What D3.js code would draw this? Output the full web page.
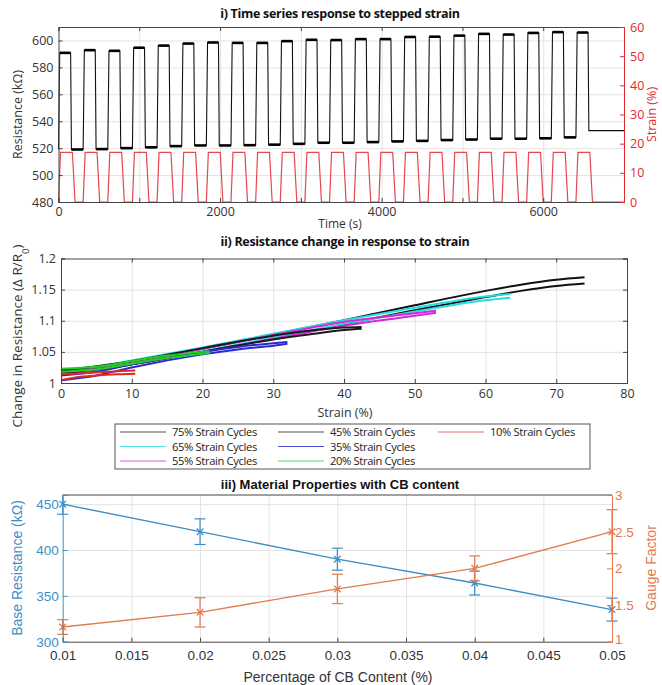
<!DOCTYPE html>
<html>
<head>
<meta charset="utf-8">
<script src="https://cdn.jsdelivr.net/npm/d3@7"></script>
<style>
  body { margin: 0; background: #fff; }
  svg { display: block; }
  .grid line { stroke: #e3e3e3; stroke-width: 1; }
  .grid path { display: none; }
</style>
</head>
<body>
<svg id="fig" width="662" height="685"></svg>
<script>
// ---------------- Panel i: stepped-strain time series ----------------
const cycleStart = [0, 305, 610, 915, 1220, 1525, 1830, 2135, 2440, 2745, 3050,
                    3355, 3660, 3965, 4270, 4575, 4880, 5185, 5490, 5795, 6100, 6405];
const resHigh = [590.8, 592.8, 592.3, 594.6, 596.2, 597.7, 598.5, 598.2, 598.2, 599.5, 600.5,
                 600.3, 601.0, 601.0, 602.6, 602.8, 603.6, 604.9, 604.4, 605.6, 606.2, 605.9];
const resLow  = [519.0, 519.3, 520.0, 520.6, 521.5, 522.0, 522.0, 522.2, 522.6, 523.2, 524.0,
                 524.0, 524.5, 525.0, 525.4, 526.0, 526.4, 527.0, 527.0, 527.3, 528.0, 528.4];
const resStart = 519;
const resEnd = 533;
const strainPeak = 17;
const timeEnd = 7000;
// offsets within one cycle (s)
const resRiseEnd = 15, resHighEnd = 150, resFallEnd = 160;
const strRiseEnd = 25, strHighEnd = 172, strFallEnd = 205;

const resTicks = [480, 500, 520, 540, 560, 580, 600];
const strainTicks = [0, 10, 20, 30, 40, 50, 60];
const timeTicks = [0, 1000, 2000, 3000, 4000, 5000, 6000, 7000];
const timeLabels = [0, 2000, 4000, 6000];

// ---------------- Panel ii: resistance change vs strain ----------------
const strain75 = [0, 5, 10, 20, 30, 40, 50, 60, 65, 70, 74];
const up75 = [1.020, 1.026, 1.035, 1.055, 1.078, 1.101, 1.125, 1.148, 1.158, 1.166, 1.170];
const dn75 = [1.015, 1.020, 1.030, 1.050, 1.072, 1.094, 1.117, 1.138, 1.148, 1.156, 1.160];
const strain65 = [0, 5, 10, 20, 30, 40, 50, 60, 63.5];
const up65 = [1.020, 1.026, 1.036, 1.057, 1.079, 1.101, 1.121, 1.139, 1.143];
const dn65 = [1.016, 1.021, 1.031, 1.051, 1.073, 1.095, 1.115, 1.133, 1.137];
const strain55 = [0, 10, 20, 30, 40, 50, 53];
const up55 = [1.018, 1.034, 1.055, 1.077, 1.098, 1.112, 1.116];
const dn55 = [1.014, 1.030, 1.050, 1.071, 1.092, 1.108, 1.113];
const strain45 = [0, 10, 20, 30, 35, 40, 42.5];
const up45 = [1.020, 1.035, 1.056, 1.076, 1.084, 1.089, 1.090];
const dn45 = [1.015, 1.030, 1.050, 1.070, 1.078, 1.085, 1.087];
const strain35 = [0, 5, 10, 20, 25, 30, 32];
const up35 = [1.012, 1.018, 1.030, 1.050, 1.058, 1.064, 1.066];
const dn35 = [1.004, 1.012, 1.025, 1.046, 1.054, 1.060, 1.063];
const strain20 = [0, 5, 10, 15, 20, 21];
const up20 = [1.023, 1.026, 1.035, 1.044, 1.050, 1.051];
const dn20 = [1.018, 1.022, 1.031, 1.040, 1.047, 1.048];
const strain10 = [0, 2, 5, 8, 10.5];
const up10 = [1.014, 1.015, 1.017, 1.019, 1.020];
const dn10 = [1.005, 1.009, 1.012, 1.014, 1.015];

const cycleNames = ["75% Strain Cycles", "65% Strain Cycles", "55% Strain Cycles",
                    "45% Strain Cycles", "35% Strain Cycles", "20% Strain Cycles", "10% Strain Cycles"];
const cycleColors = ["#111111", "#22dede", "#d42ad8", "#1a1a1a", "#2a2ad0", "#22d022", "#e02a2a"];
const legendColors = ["#555555", "#5fe0e0", "#d45fd8", "#555555", "#4a4ad0", "#5fd85f", "#e07070"];

const dRTicks = [1, 1.05, 1.1, 1.15, 1.2];
const strainXTicks = [0, 10, 20, 30, 40, 50, 60, 70, 80];

// ---------------- Panel iii: material properties vs CB content ----------------
const cbContent = [0.01, 0.02, 0.03, 0.04, 0.05];
const baseRes = [450, 420, 390, 364, 335];
const baseResErr = [11, 14, 12, 13, 12.5];
const gaugeFactor = [1.2, 1.4, 1.72, 2.0, 2.5];
const gaugeErr = [0.1, 0.2, 0.2, 0.17, 0.3];
const cbTicks = [0.01, 0.015, 0.02, 0.025, 0.03, 0.035, 0.04, 0.045, 0.05];
const baseResTicks = [300, 350, 400, 450];
const gaugeTicks = [1, 1.5, 2, 2.5, 3];

// =====================================================================
const svg = d3.select("#fig");
const AX = "#444444";
const TXT = "#333333";
const HUM = '"Open Sans", "DejaVu Sans", sans-serif';
const ARI = '"Liberation Sans", Arial, sans-serif';

function gridX(g, scale, vals, top, bottom) {
  g.append("g").attr("class", "grid")
    .attr("transform", `translate(0,${bottom})`)
    .call(d3.axisBottom(scale).tickValues(vals).tickSize(-(bottom - top)).tickFormat(""));
}
function gridY(g, scale, vals, left, right) {
  g.append("g").attr("class", "grid")
    .attr("transform", `translate(${left},0)`)
    .call(d3.axisLeft(scale).tickValues(vals).tickSize(-(right - left)).tickFormat(""));
}
function styleAxis(sel, color, font, size) {
  sel.select(".domain").attr("stroke", color);
  sel.selectAll(".tick line").attr("stroke", color);
  sel.selectAll(".tick text").attr("fill", color === AX ? TXT : color)
    .attr("font-family", font).attr("font-size", size);
}

// ---------------- Panel i ----------------
{
  const P = { l: 58.5, r: 624, t: 27, b: 202 };
  const x = d3.scaleLinear().domain([0, timeEnd]).range([P.l, P.r]);
  const y = d3.scaleLinear().domain([480, 610]).range([P.b, P.t]);
  const yr = d3.scaleLinear().domain([0, 60]).range([P.b, P.t]);
  const g = svg.append("g");

  gridX(g, x, timeTicks.slice(1, -1), P.t, P.b);
  gridY(g, y, resTicks.slice(1), P.l, P.r);

  // resistance and strain waveforms
  const res = [[0, resStart]];
  const plateaus = [];
  const strain = [[0, 0]];
  cycleStart.forEach((t, k) => {
    const prev = k === 0 ? resStart : resLow[k - 1];
    const last = k === cycleStart.length - 1;
    const lo = last ? resEnd : resLow[k];
    const next = last ? timeEnd : cycleStart[k + 1];
    res.push([t, prev], [t + resRiseEnd, resHigh[k]], [t + resHighEnd, resHigh[k]], [t + resFallEnd, lo]);
    plateaus.push([[t + resRiseEnd, resHigh[k]], [t + resHighEnd, resHigh[k]]]);
    if (!last) plateaus.push([[t + resFallEnd, lo], [next, lo]]);
    strain.push([t, 0], [t + strRiseEnd, strainPeak], [t + strHighEnd, strainPeak], [t + strFallEnd, 0]);
  });
  res.push([timeEnd, resEnd]);
  strain.push([timeEnd, 0]);

  const lineR = d3.line().x(d => x(d[0])).y(d => y(d[1]));
  const lineS = d3.line().x(d => x(d[0])).y(d => yr(d[1]));
  g.append("path").attr("d", lineS(strain)).attr("fill", "none")
    .attr("stroke", "#e4474d").attr("stroke-width", 1.2);
  g.append("path").attr("d", lineR(res)).attr("fill", "none")
    .attr("stroke", "#111").attr("stroke-width", 1.1);
  g.selectAll(".plat").data(plateaus).join("path")
    .attr("d", lineR).attr("fill", "none").attr("stroke", "#000").attr("stroke-width", 2.6);

  // axes (ticks inside the box)
  const ax = g.append("g").attr("transform", `translate(0,${P.b})`)
    .call(d3.axisBottom(x).tickValues(timeTicks).tickSize(-4).tickPadding(5)
      .tickFormat(d => timeLabels.includes(d) ? d : ""));
  styleAxis(ax, AX, HUM, 12.5);
  const axT = g.append("g").attr("transform", `translate(0,${P.t})`)
    .call(d3.axisTop(x).tickValues(timeTicks).tickSize(-4).tickFormat(""));
  styleAxis(axT, AX, HUM, 12);
  const ayl = g.append("g").attr("transform", `translate(${P.l},0)`)
    .call(d3.axisLeft(y).tickValues(resTicks).tickSize(-4).tickPadding(5));
  styleAxis(ayl, AX, HUM, 12.5);
  const ayr = g.append("g").attr("transform", `translate(${P.r},0)`)
    .call(d3.axisRight(yr).tickValues(strainTicks).tickSize(-4).tickPadding(6));
  styleAxis(ayr, "#e02a30", HUM, 12.5);

  g.append("text").attr("x", 340).attr("y", 18).attr("text-anchor", "middle")
    .attr("font-family", HUM).attr("font-weight", "bold").attr("font-size", 12.5)
    .attr("letter-spacing", -0.3).attr("fill", "#111")
    .text("i) Time series response to stepped strain");
  g.append("text").attr("x", 340).attr("y", 228).attr("text-anchor", "middle")
    .attr("font-family", HUM).attr("font-size", 12).attr("fill", TXT).text("Time (s)");
  g.append("text").attr("transform", `translate(22,${(P.t + P.b) / 2}) rotate(-90)`)
    .attr("text-anchor", "middle").attr("font-family", HUM).attr("font-size", 12.5)
    .attr("fill", TXT).text("Resistance (kΩ)");
  g.append("text").attr("transform", `translate(656,${(P.t + P.b) / 2}) rotate(-90)`)
    .attr("text-anchor", "middle").attr("font-family", HUM).attr("font-size", 12.5)
    .attr("fill", "#e02a30").text("Strain (%)");
}

// ---------------- Panel ii ----------------
{
  const P = { l: 61, r: 627, t: 258.5, b: 383 };
  const x = d3.scaleLinear().domain([0, 80]).range([P.l, P.r]);
  const y = d3.scaleLinear().domain([1, 1.2]).range([P.b, P.t]);
  const g = svg.append("g");

  gridX(g, x, strainXTicks.slice(1, -1), P.t, P.b);
  gridY(g, y, dRTicks.slice(1, -1), P.l, P.r);

  const series = [
    [strain75, up75, dn75], [strain65, up65, dn65], [strain55, up55, dn55],
    [strain45, up45, dn45], [strain35, up35, dn35], [strain20, up20, dn20],
    [strain10, up10, dn10]
  ];
  const line = d3.line().x(d => x(d[0])).y(d => y(d[1])).curve(d3.curveMonotoneX);
  series.forEach((s, i) => {
    [s[1], s[2]].forEach(vals => {
      g.append("path").attr("d", line(s[0].map((v, j) => [v, vals[j]])))
        .attr("fill", "none").attr("stroke", cycleColors[i]).attr("stroke-width", 2);
    });
  });

  const ax = g.append("g").attr("transform", `translate(0,${P.b})`)
    .call(d3.axisBottom(x).tickValues(strainXTicks).tickSize(-4).tickPadding(6));
  styleAxis(ax, AX, HUM, 12.5);
  const axT = g.append("g").attr("transform", `translate(0,${P.t})`)
    .call(d3.axisTop(x).tickValues(strainXTicks).tickSize(-4).tickFormat(""));
  styleAxis(axT, AX, HUM, 12);
  const ay = g.append("g").attr("transform", `translate(${P.l},0)`)
    .call(d3.axisLeft(y).tickValues(dRTicks).tickSize(-4).tickPadding(5).tickFormat(d => String(d)));
  styleAxis(ay, AX, HUM, 12.5);
  const ayR = g.append("g").attr("transform", `translate(${P.r},0)`)
    .call(d3.axisRight(y).tickValues(dRTicks).tickSize(-4).tickFormat(""));
  styleAxis(ayR, AX, HUM, 12);

  g.append("text").attr("x", 345).attr("y", 246).attr("text-anchor", "middle")
    .attr("font-family", HUM).attr("font-weight", "bold").attr("font-size", 12.5)
    .attr("letter-spacing", -0.3).attr("fill", "#111")
    .text("ii) Resistance change in response to strain");
  g.append("text").attr("x", 345).attr("y", 417).attr("text-anchor", "middle")
    .attr("font-family", HUM).attr("font-size", 12.5).attr("fill", TXT).text("Strain (%)");
  const yl = g.append("text").attr("transform", `translate(22,336) rotate(-90)`)
    .attr("text-anchor", "middle").attr("font-family", HUM).attr("font-size", 13.5).attr("fill", TXT);
  yl.append("tspan").text("Change in Resistance (Δ R/R");
  yl.append("tspan").attr("baseline-shift", "sub").attr("font-size", 9.5).text("0");
  yl.append("tspan").text(")");

  // legend, filled column by column
  const L = { x: 115, y: 424, w: 475, h: 45 };
  const lg = g.append("g");
  lg.append("rect").attr("x", L.x).attr("y", L.y).attr("width", L.w).attr("height", L.h)
    .attr("fill", "#fff").attr("stroke", "#555").attr("stroke-width", 1);
  const colX = [120, 278, 438];
  cycleNames.forEach((name, i) => {
    const c = Math.floor(i / 3), r = i % 3;
    const yy = L.y + 8 + r * 14.5;
    lg.append("line").attr("x1", colX[c]).attr("x2", colX[c] + 46).attr("y1", yy).attr("y2", yy)
      .attr("stroke", legendColors[i]).attr("stroke-width", 1.2);
    lg.append("text").attr("x", colX[c] + 52).attr("y", yy + 4.3)
      .attr("font-family", HUM).attr("font-size", 11.2).attr("letter-spacing", -0.35)
      .attr("fill", "#222").text(name);
  });
}

// ---------------- Panel iii ----------------
{
  const P = { l: 62.7, r: 612, t: 495, b: 641.7 };
  const x = d3.scaleLinear().domain([0.01, 0.05]).range([P.l, P.r]);
  const yl = d3.scaleLinear().domain([300, 460]).range([P.b, P.t]);
  const yr = d3.scaleLinear().domain([1, 3]).range([P.b, P.t]);
  const g = svg.append("g");
  const BLUE = "#3d8ec6", ORANGE = "#e37a4e";

  gridX(g, x, cbTicks.slice(1, -1), P.t, P.b);
  gridY(g, yl, baseResTicks.slice(1), P.l, P.r);

  // top border
  g.append("line").attr("x1", P.l).attr("x2", P.r).attr("y1", P.t).attr("y2", P.t)
    .attr("stroke", AX).attr("stroke-width", 1);

  function drawSeries(vals, errs, yScale, color) {
    const line = d3.line().x((d, i) => x(cbContent[i])).y(d => yScale(d));
    g.append("path").attr("d", line(vals)).attr("fill", "none")
      .attr("stroke", color).attr("stroke-width", 1.4);
    const top = yScale.domain()[1];
    vals.forEach((v, i) => {
      const cx = x(cbContent[i]);
      const hi = Math.min(top, v + errs[i]), lo = v - errs[i];
      g.append("line").attr("x1", cx).attr("x2", cx).attr("y1", yScale(lo)).attr("y2", yScale(hi))
        .attr("stroke", color).attr("stroke-width", 1.2);
      [v + errs[i], lo].forEach(e => {
        if (e > top) return;
        g.append("line").attr("x1", cx - 5.5).attr("x2", cx + 5.5).attr("y1", yScale(e)).attr("y2", yScale(e))
          .attr("stroke", color).attr("stroke-width", 1.2);
      });
      const cy = yScale(v), s = 3.3;
      g.append("path").attr("d", `M${cx - s},${cy - s}L${cx + s},${cy + s}M${cx - s},${cy + s}L${cx + s},${cy - s}`)
        .attr("stroke", color).attr("stroke-width", 1.3);
    });
  }
  drawSeries(baseRes, baseResErr, yl, BLUE);
  drawSeries(gaugeFactor, gaugeErr, yr, ORANGE);

  const ax = g.append("g").attr("transform", `translate(0,${P.b})`)
    .call(d3.axisBottom(x).tickValues(cbTicks).tickSize(-4).tickPadding(9).tickFormat(d => String(d)));
  styleAxis(ax, AX, ARI, 13.5);
  const ayl = g.append("g").attr("transform", `translate(${P.l},0)`)
    .call(d3.axisLeft(yl).tickValues(baseResTicks).tickSize(-5).tickPadding(4));
  styleAxis(ayl, BLUE, ARI, 13.5);
  const ayr = g.append("g").attr("transform", `translate(${P.r},0)`)
    .call(d3.axisRight(yr).tickValues(gaugeTicks).tickSize(-5).tickPadding(3).tickFormat(d => String(d)));
  styleAxis(ayr, ORANGE, ARI, 13.5);
  // lift the lowest right-hand label slightly clear of the x tick labels
  ayr.selectAll(".tick text").filter(d => d === 1).attr("dy", "0.1em");

  g.append("text").attr("x", 340).attr("y", 489).attr("text-anchor", "middle")
    .attr("font-family", ARI).attr("font-weight", "bold").attr("font-size", 13)
    .attr("fill", "#111").text("iii) Material Properties with CB content");
  g.append("text").attr("x", 338).attr("y", 682).attr("text-anchor", "middle")
    .attr("font-family", ARI).attr("font-size", 14).attr("fill", TXT).text("Percentage of CB Content (%)");
  g.append("text").attr("transform", `translate(22,568) rotate(-90)`)
    .attr("text-anchor", "middle").attr("font-family", ARI).attr("font-size", 14)
    .attr("fill", BLUE).text("Base Resistance (kΩ)");
  g.append("text").attr("transform", `translate(656,568) rotate(-90)`)
    .attr("text-anchor", "middle").attr("font-family", ARI).attr("font-size", 14)
    .attr("fill", ORANGE).text("Gauge Factor");
}
</script>
</body>
</html>
